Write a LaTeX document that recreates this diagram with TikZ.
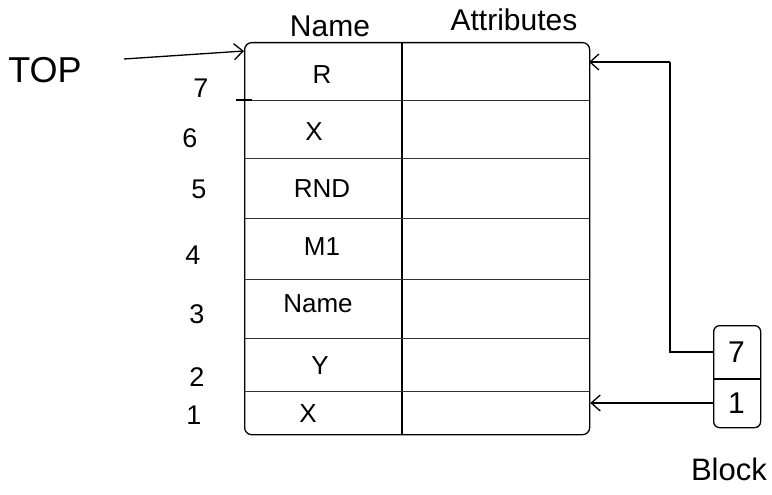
\documentclass[tikz,border=0pt]{standalone}
\usepackage{fontspec}
\setmainfont{Liberation Sans}
\usetikzlibrary{arrows.meta}
\begin{document}
\begin{tikzpicture}[x=1pt,y=-1pt,
  ink/.style={line width=1.3pt, black},
  rowline/.style={line width=0.7pt, black!80},
  arr/.style={ink, -{Straight Barb[length=9pt,width=16pt,line width=1.3pt]}},
  txt/.style={inner sep=0pt, font=\fontsize{26}{30}\selectfont},
  num/.style={inner sep=0pt, font=\fontsize{27}{31}\selectfont},
  hdr/.style={inner sep=0pt, font=\fontsize{30}{34}\selectfont},
  big/.style={inner sep=0pt, font=\fontsize{36}{40}\selectfont},
  cell/.style={inner sep=0pt, minimum width=47pt, minimum height=50pt, font=\fontsize{30}{34}\selectfont}]
\useasboundingbox (0,0) rectangle (772,495);
% table
\node[draw, ink, rounded corners=7pt, anchor=north west, inner sep=0pt,
      minimum width=345pt, minimum height=392pt] (tbl) at (244,42) {};
\draw[ink] (402,42) -- (402,434);
\foreach \yy in {100,158,218,279,338,391} {
  \draw[rowline] (244,\yy) -- (589,\yy);
}
\draw[ink] (236,100) -- (252,100);
% headers
\node[hdr] (hname) at (330,26) {Name};
\node[hdr] (hattr) at (514,20) {Attributes};
% row numbers
\node[num] (n7) at (201,88) {7};
\node[num] (n6) at (190,138) {6};
\node[num] (n5) at (199,189) {5};
\node[num] (n4) at (193,255) {4};
\node[num] (n3) at (197,314) {3};
\node[num] (n2) at (197,377) {2};
\node[num] (n1) at (194,415) {1};
% entries
\node[txt] (e7) at (322,75) {R};
\node[txt] (e6) at (314,132) {X};
\node[txt] (e5) at (322,189) {RND};
\node[txt] (e4) at (322,247) {M1};
\node[txt] (e3) at (318,304) {Name};
\node[txt] (e2) at (320,366) {Y};
\node[txt] (e1) at (308,414) {X};
% TOP
\node[big] (top) at (45,70) {TOP};
\coordinate (topstart) at (124,59);
\coordinate (t7) at (244,51);
\draw[arr] (topstart) -- (t7);
% block
\node[draw, ink, rounded corners=6pt, anchor=north west, minimum width=47pt,
      minimum height=102pt, inner sep=0pt] (blk) at (713,325) {};
\draw[ink] (713,379) -- (760,379);
\node[cell] (b7) at (736.5,352) {7};
\node[cell] (b1) at (736.5,403) {1};
\node[inner sep=0pt, font=\fontsize{31}{35}\selectfont, anchor=east] (blabel) at (767,469) {Block};
% connectors
\coordinate (bend) at (670,62);
\coordinate (a7) at (589,62);
\draw[ink] (b7.west) -| (bend);
\draw[arr] (bend) -- (a7);
\draw[arr] (b1.west) -- (tbl.east |- b1.west);
\end{tikzpicture}
\end{document}
